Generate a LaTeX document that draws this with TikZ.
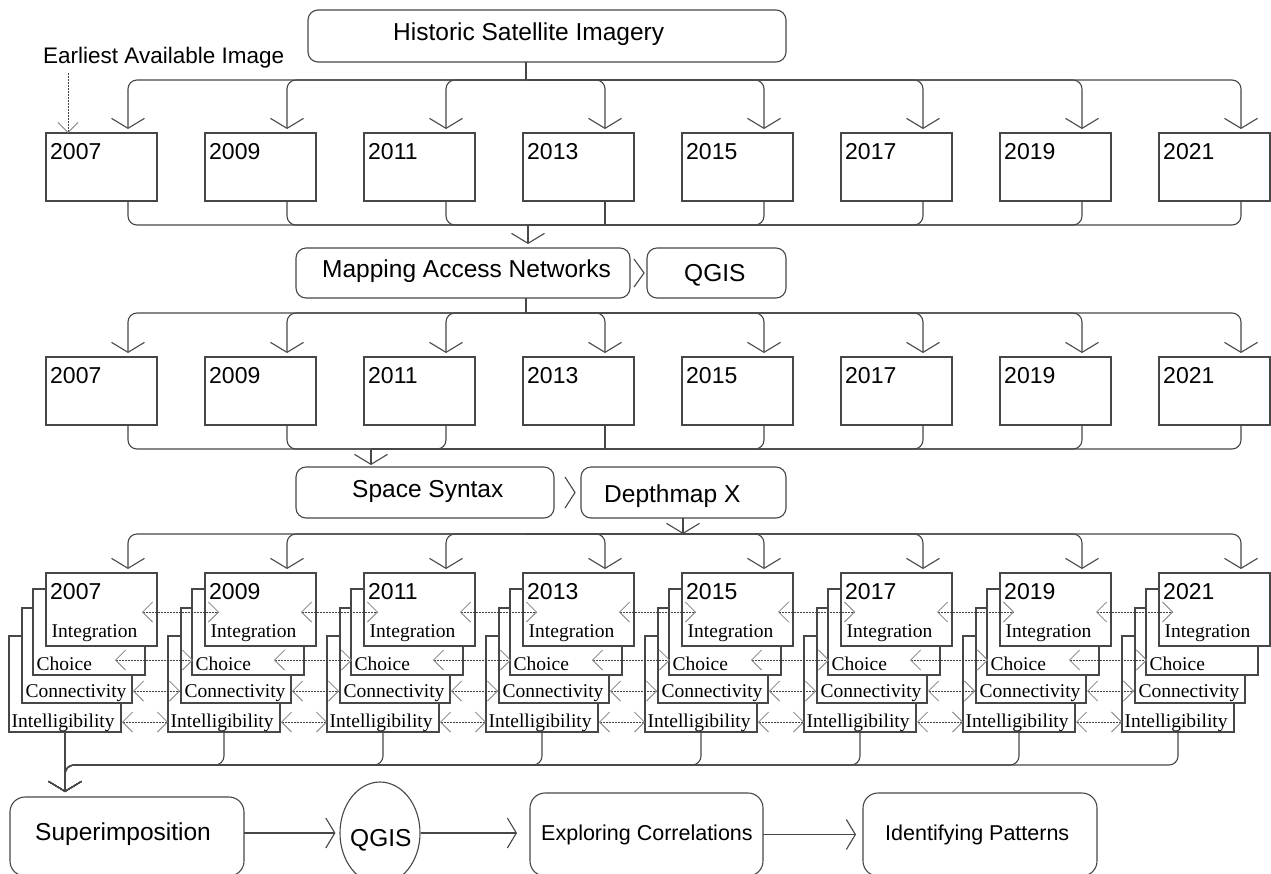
\documentclass[tikz,border=0pt]{standalone}
\usepackage{fontspec}
\setmainfont{Liberation Sans}
\newfontfamily\serfont{Liberation Serif}
\usetikzlibrary{arrows.meta,calc,shapes.geometric}
\begin{document}
\begin{tikzpicture}[x=1pt,y=-1pt,
  ln/.style={draw=black!72, line width=1.1pt},
  box/.style={ln, rectangle, fill=white, inner sep=0pt, outer sep=0pt, anchor=north west},
  rbox/.style={box, rounded corners=10pt},
  bigt/.style={inner sep=0pt, anchor=base west, font=\fontsize{24.5}{28}\selectfont},
  midt/.style={inner sep=0pt, anchor=base west, font=\fontsize{21.5}{25}\selectfont},
  yrt/.style={inner sep=0pt, anchor=base west, font=\fontsize{23}{27}\selectfont},
  labt/.style={inner sep=0pt, anchor=base west, font=\serfont\fontsize{19.5}{23}\selectfont},
  vtip/.style={-{Straight Barb[length=10pt,width=33pt]}},
  htip/.style={-{Straight Barb[length=9pt,width=30pt]}},
  fan/.style={ln, rounded corners=9pt},
  dotln/.style={draw=black!75, line width=0.9pt, dash pattern=on 1.6pt off 1.4pt},
  dtipb/.style={{Straight Barb[length=10pt,width=20pt,color=black!50,line width=0.8pt]}-{Straight Barb[length=10pt,width=20pt,color=black!50,line width=0.8pt]}},
  dtipe/.style={-{Straight Barb[length=10pt,width=20pt,color=black!50,line width=0.8pt]}},
]
\useasboundingbox (0,0) rectangle (1271,873);

% ---------- top ----------
\node[rbox, minimum width=478pt, minimum height=52pt] (hist) at (308,10) {};
\node[bigt] (hist-t) at (393,40) {Historic Satellite Imagery};
\node[inner sep=0pt, anchor=base west, font=\fontsize{22.5}{26}\selectfont] (earl) at (43,63) {Earliest Available Image};

% ---------- rows 1 and 2 ----------
\foreach \yr [count=\i from 0] in {2007,2009,2011,2013,2015,2017,2019,2021}{
  \pgfmathsetmacro\bx{46+159*\i}
  \node[box, minimum width=111pt, minimum height=68pt] (a\i) at (\bx,133) {};
  \node[yrt] (a\i-t) at ($(a\i.north west)+(4,26)$) {\yr};
  \node[box, minimum width=111pt, minimum height=68pt] (b\i) at (\bx,357) {};
  \node[yrt] (b\i-t) at ($(b\i.north west)+(4,26)$) {\yr};
}

\draw[dotln, dtipe] ($(earl.base west)+(25,10)$) -- ($(a0.north west)+(22,0)$);

% fan out row 1
\coordinate (f1) at (526,80);
\draw[ln] (f1 |- hist.south) -- (f1);
\foreach \i in {0,...,7}{
  \draw[fan, vtip] (f1) -| ($(a\i.north west)+(82,-4)$);
}

% mapping
\node[rbox, minimum width=334pt, minimum height=50pt] (map) at (296,248) {};
\node[bigt] (map-t) at (322,277) {Mapping Access Networks};
\node[rbox, minimum width=139pt, minimum height=50pt] (qg1) at (647,248) {};
\node[bigt] (qg1-t) at (684,281) {QGIS};
\draw[ln] ($(map.east)+(4,-14)$) -- ($(map.east)+(14,0)$) -- ($(map.east)+(4,14)$);

% collect row 1
\coordinate (c1) at (528,225);
\foreach \i/\st in {0/fan,1/fan,2/fan,3/ln,4/fan,5/fan,6/fan,7/fan}{
  \draw[\st] ($(a\i.south west)+(82,0)$) |- (c1);
}
\draw[ln, vtip] (c1) -- ($(map.north -| c1)+(0,-4)$);

% fan out row 2
\coordinate (f2) at (526,313);
\draw[ln] (f2 |- map.south) -- (f2);
\foreach \i in {0,...,7}{
  \draw[fan, vtip] (f2) -| ($(b\i.north west)+(82,-4)$);
}

% space syntax
\node[rbox, minimum width=258pt, minimum height=51pt] (ss) at (296,467) {};
\node[bigt] (ss-t) at (352,497) {Space Syntax};
\node[rbox, minimum width=205pt, minimum height=51pt] (dm) at (581,467) {};
\node[bigt] (dm-t) at (604,502) {Depthmap X};
\draw[ln] ($(ss.east)+(11,-15.5)$) -- ($(ss.east)+(21,0)$) -- ($(ss.east)+(11,15.5)$);

% collect row 2
\coordinate (c2) at (371,449);
\foreach \i/\st in {0/fan,1/fan,2/fan,3/ln,4/fan,5/fan,6/fan,7/fan}{
  \draw[\st] ($(b\i.south west)+(82,0)$) |- (c2);
}
\draw[ln, vtip] (c2) -- ($(ss.north -| c2)+(0,-2)$);

% ---------- row 3 ----------
\foreach \yr [count=\i from 0] in {2007,2009,2011,2013,2015,2017,2019,2021}{
  \pgfmathsetmacro\bx{46+159*\i}
  \node[box, minimum width=112pt, minimum height=96pt] (in\i) at (\bx-37,636) {};
  \node[box, minimum width=110pt, minimum height=95pt] (co\i) at (\bx-24,608) {};
  \node[box, minimum width=112pt, minimum height=86pt] (ch\i) at (\bx-13,589) {};
  \node[box, minimum width=111pt, minimum height=73pt] (fr\i) at (\bx,573) {};
  \node[yrt] (fr\i-t) at ($(fr\i.north west)+(4,26)$) {\yr};
  \node[labt] (ig\i-t) at ($(fr\i.north west)+(5.5,64)$) {Integration};
  \node[labt] (ch\i-t) at ($(ch\i.north west)+(3.5,81)$) {Choice};
  \node[labt] (co\i-t) at ($(co\i.north west)+(3.5,89)$) {Connectivity};
  \node[labt] (in\i-t) at ($(in\i.north west)+(2.5,91)$) {Intelligibility};
}

\coordinate (d3) at (683,534);
\draw[ln, vtip] (dm.south -| d3) -- (d3);
\coordinate (f3) at (526,534);
\foreach \i in {0,...,7}{
  \draw[fan, vtip] (f3) -| ($(fr\i.north west)+(82,-4)$);
}

\foreach \i [evaluate=\i as \j using int(\i+1)] in {0,...,6}{
  \draw[dotln, dtipb] ($(fr\i.north west)+(96,39)$) -- ($(fr\j.north west)+(14,39)$);
  \draw[dotln, dtipb] ($(ch\i.north west)+(82,71)$) -- ($(ch\j.north west)+(1,71)$);
  \draw[dotln, dtipb] ($(co\i.north west)+(111,83)$) -- ($(co\j.north west)+(-1,83)$);
  \draw[dotln, dtipb] ($(in\i.north west)+(113,86)$) -- ($(in\j.north west)+(0,86)$);
}

% ---------- bottom row ----------
\node[rbox, rounded corners=15pt, minimum width=234pt, minimum height=79pt] (sup) at (10,797) {};
\node[bigt] (sup-t) at (35,840) {Superimposition};
\node[ln, ellipse, inner sep=0pt, minimum width=80pt, minimum height=102pt] (qg2) at (380,833) {};
\node[bigt] (qg2-t) at (350,846) {QGIS};
\node[rbox, rounded corners=15pt, minimum width=233pt, minimum height=83pt] (exp) at (530,793) {};
\node[midt] (exp-t) at (541,840) {Exploring Correlations};
\node[rbox, rounded corners=15pt, minimum width=234pt, minimum height=83pt] (idp) at (863,793) {};
\node[midt] (idp-t) at (885,840) {Identifying Patterns};

\coordinate (c3) at (65,765);
\draw[ln, vtip] (in0.south) -- ($(sup.north -| in0.south)+(0,-5)$);
\foreach \i in {1,...,7}{
  \draw[fan, vtip] (in\i.south) |- (c3) -- ($(sup.north -| c3)+(0,-5)$);
}

\draw[ln, htip, shorten >=4pt] (sup.east |- qg2.center) -- (qg2.west);
\draw[ln, htip, shorten >=13pt] (qg2.east) -- (qg2.east -| exp.west);
\draw[ln, htip, shorten >=7pt] (exp.east) -- (idp.west);
\end{tikzpicture}
\end{document}
